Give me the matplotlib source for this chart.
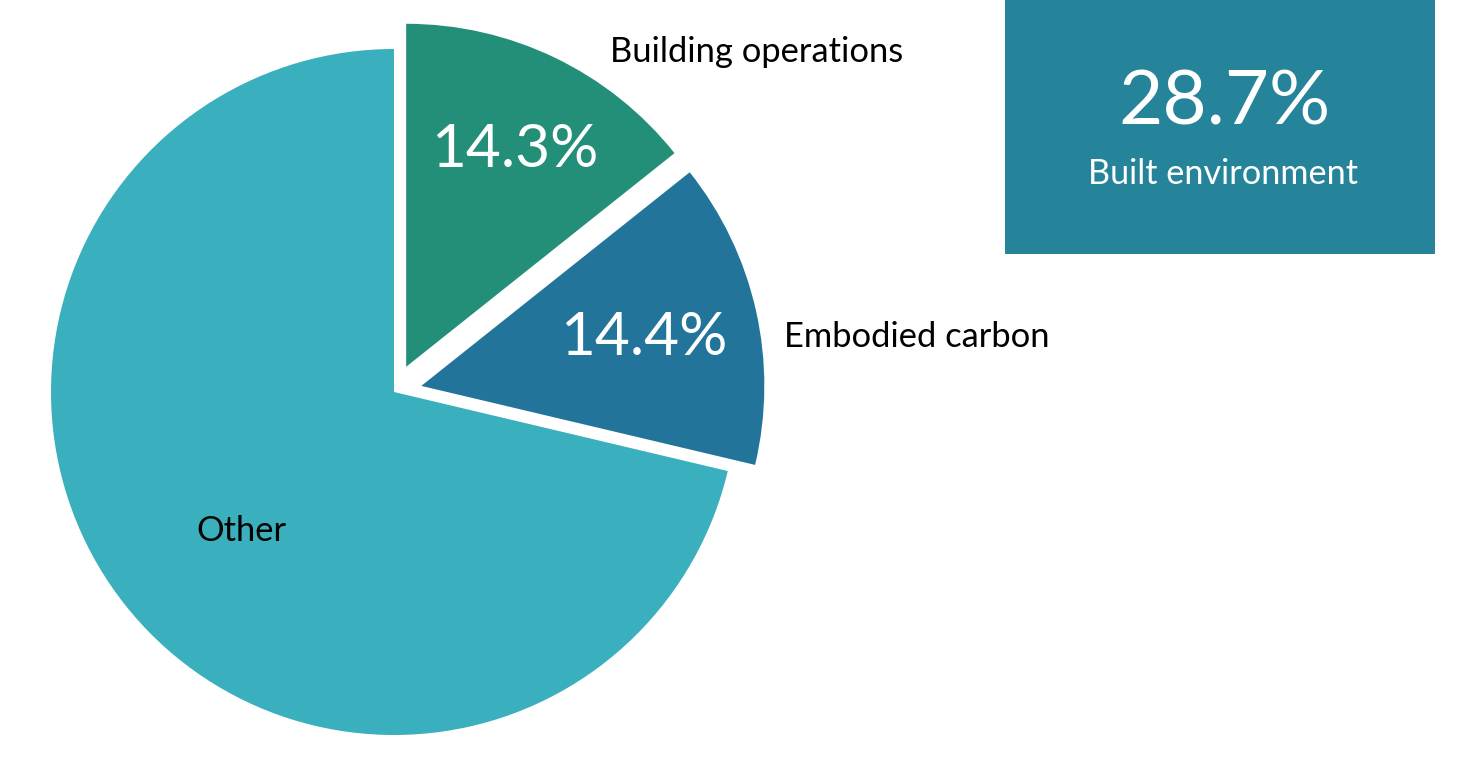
import matplotlib
matplotlib.use("Agg")
import matplotlib.pyplot as plt
from matplotlib.patches import Rectangle

categories = ["Building operations", "Embodied carbon", "Other"]
values = [14.3, 14.4, 71.3]
pct_labels = ["14.3%", "14.4%", ""]
total_label = "28.7%"
total_caption = "Built environment"

colors = ["#248F78", "#23749A", "#3AAFBD"]
box_color = "#26849A"

W, H = 1484, 761
fig = plt.figure(figsize=(W / 100, H / 100), dpi=100)
ax = fig.add_axes([0, 0, 1, 1])

font = "Lato"
cx, cy, r = 394, H - 392, 343
gap = 28  # explode offset in data units
ax.pie(values, colors=colors, startangle=90, counterclock=False,
       explode=[gap, gap, 0], center=(cx, cy), radius=r,
       wedgeprops=dict(linewidth=0), frame=True)
ax.set_xlim(0, W)
ax.set_ylim(0, H)
ax.set_aspect("equal")
ax.axis("off")

# percentage labels inside slices
ax.text(515, H - 150, pct_labels[0], color="white", fontsize=43.5, family=font,
        ha="center", va="center")
ax.text(644, H - 338, pct_labels[1], color="white", fontsize=43.5, family=font,
        ha="center", va="center")

# category labels
ax.text(610, H - 52, categories[0], color="black", fontsize=24.8, family=font,
        ha="left", va="center")
ax.text(784, H - 337, categories[1], color="black", fontsize=24.8, family=font,
        ha="left", va="center")
ax.text(241, H - 531, categories[2], color="black", fontsize=24.8, family=font,
        ha="center", va="center")

# summary box
ax.add_patch(Rectangle((1005, H - 254), 430, 254, facecolor=box_color,
                       edgecolor="none"))
ax.text(1225, H - 103, total_label, color="white", fontsize=55, family=font,
        ha="center", va="center")
ax.text(1223, H - 174, total_caption, color="white", fontsize=24.7, family=font,
        ha="center", va="center")

fig.savefig("out.png", dpi=100, facecolor="white")
